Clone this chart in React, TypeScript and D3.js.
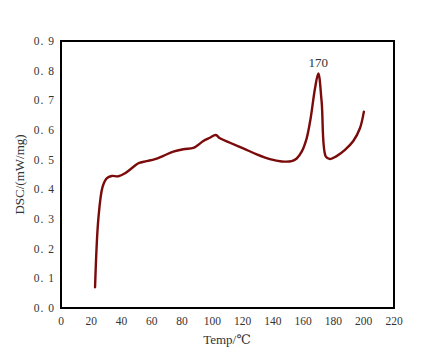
import React from "react";
import * as d3 from "d3";

const temps = [22.5, 24.7, 27.5, 30.2, 33.5, 37.9, 42.3, 46.7, 51.1, 56.6, 62.1, 67.6, 74.2, 80.8, 87.4, 89.6, 94, 98.4, 102.2, 105, 111.6, 120.4, 129.3, 138, 145.8, 152.4, 155.7, 159, 162.3, 164.9, 167.8, 170, 172.2, 175, 177.7, 182.1, 187.6, 193.1, 197.5, 200.1];
const dsc = [0.07, 0.302, 0.409, 0.437, 0.445, 0.444, 0.454, 0.471, 0.488, 0.495, 0.502, 0.513, 0.527, 0.535, 0.54, 0.546, 0.563, 0.574, 0.583, 0.572, 0.557, 0.538, 0.518, 0.502, 0.494, 0.495, 0.504, 0.527, 0.572, 0.639, 0.74, 0.791, 0.695, 0.51, 0.502, 0.512, 0.533, 0.563, 0.606, 0.662];
const xTicks = [0, 20, 40, 60, 80, 100, 120, 140, 160, 180, 200, 220];
const yTicks = [0, 0.1, 0.2, 0.3, 0.4, 0.5, 0.6, 0.7, 0.8, 0.9];
const peakLabel = { x: 170, y: 0.791, text: "170" };

export default function App() {
  const W = 431, H = 357;
  const left = 61, right = 394, top = 41, bottom = 308;
  const x = d3.scaleLinear().domain([0, 220]).range([left, right]);
  const y = d3.scaleLinear().domain([0, 0.9]).range([bottom, top]);
  const pts = temps.map((t, i) => [t, dsc[i]] as [number, number]);
  const line = d3.line<[number, number]>().x(d => x(d[0])).y(d => y(d[1])).curve(d3.curveCatmullRom.alpha(0.5));
  const font = "'Liberation Serif', 'DejaVu Serif', serif";
  return (
    <div style={{ position: "absolute", left: 0, top: 0 }}>
      <svg width={W} height={H} style={{ display: "block" }}>
        <rect x={0} y={0} width={W} height={H} fill="#fff" />
        <path d={line(pts) || ""} fill="none" stroke="#7b0a0a" strokeWidth={2.4} strokeLinejoin="round" strokeLinecap="round" />
        <rect x={left} y={top} width={right - left} height={bottom - top} fill="none" stroke="#000" strokeWidth={2} />
        {yTicks.map(t => (
          <text key={t} x={55} y={y(t)} dy="0.35em" textAnchor="end" fontFamily={font} fontSize={11.5} fill="#333" letterSpacing={1}>
            {t.toFixed(1).replace(".", ". ")}
          </text>
        ))}
        {xTicks.map(t => (
          <text key={t} x={x(t)} y={325} textAnchor="middle" fontFamily={font} fontSize={11.5} fill="#333">
            {t}
          </text>
        ))}
        <text x={227} y={344} textAnchor="middle" fontFamily={font} fontSize={13} fill="#333">Temp/℃</text>
        <text transform={`translate(24,${(top + bottom) / 2}) rotate(-90)`} textAnchor="middle" fontFamily={font} fontSize={13} fill="#333">DSC/(mW/mg)</text>
        <text x={x(peakLabel.x)} y={y(peakLabel.y) - 6} textAnchor="middle" fontFamily={font} fontSize={13} fill="#333">{peakLabel.text}</text>
      </svg>
    </div>
  );
}
